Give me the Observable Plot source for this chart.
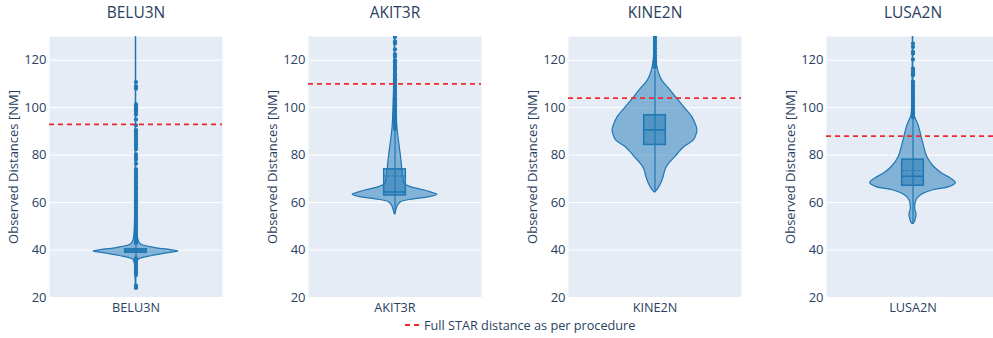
<!DOCTYPE html>
<html>
<head>
<meta charset="utf-8">
<script src="https://cdn.jsdelivr.net/npm/d3@7"></script>
<script src="https://cdn.jsdelivr.net/npm/@observablehq/plot@0.6"></script>
<style>
  body { margin: 0; background: #fff; font-family: "Open Sans", sans-serif; }
  #chart { position: relative; width: 993px; height: 338px; overflow: hidden; }
  .panel { position: absolute; top: 0; }
  #legend { position: absolute; left: 403px; top: 316px; display: flex; align-items: center;
            font: 12.7px "Open Sans", sans-serif; color: #2a3f5f; white-space: nowrap; }
  #legend svg { margin-right: 3px; }
</style>
</head>
<body>
<div id="chart"></div>
<script>
// STAR routes, one panel each
const routes = ["BELU3N", "AKIT3R", "KINE2N", "LUSA2N"];
// Full STAR distance as per procedure [NM]
const starDistance = [93, 110, 104, 88];

// Box statistics per route [NM]
const q1 = [38.9, 63.0, 84.3, 67.1];
const median = [39.6, 64.5, 90.7, 71.1];
const mean = [40.3, 71.2, 90.5, 73.5];
const q3 = [40.3, 74.0, 96.8, 78.1];
const whiskerLow = [37.0, 55.0, 64.5, 51.0];
const whiskerHigh = [42.3, 90.5, 115.5, 95.0];

// Violin outlines: distance levels and relative half-widths of the density
const violinLevels = [
  [23.5, 27, 31, 34, 35.2, 35.9, 36.7, 37.4, 38.1, 38.8, 39.4, 40, 40.5, 41.2, 41.9, 42.8, 44.3, 47, 52, 60, 80, 105, 130],
  [55, 56.7, 58.8, 60.2, 61.2, 62.3, 63.3, 64.2, 65.1, 66.5, 68, 70, 74, 79.2, 86.2, 91.9, 103, 115, 130],
  [64.3, 65.9, 68.3, 70.8, 73.6, 75.7, 79.2, 83.4, 86.2, 88.5, 90.7, 92.6, 96.1, 100.3, 104.5, 108.1, 111.6, 115.8, 120, 125, 130],
  [51, 52, 53.2, 54.3, 55.3, 56.5, 58.1, 60.9, 63, 65.1, 66.5, 68.2, 70.1, 72.2, 75, 79.2, 83.4, 87.6, 91.9, 94.7, 96.8, 105, 115, 130]
];
const violinWidths = [
  [0.006, 0.008, 0.012, 0.025, 0.04, 0.06, 0.17, 0.35, 0.56, 0.8, 0.98, 0.8, 0.56, 0.35, 0.17, 0.09, 0.055, 0.035, 0.022, 0.012, 0.006, 0.004, 0.003],
  [0.006, 0.03, 0.07, 0.14, 0.37, 0.8, 0.98, 0.85, 0.69, 0.37, 0.22, 0.2, 0.17, 0.14, 0.09, 0.055, 0.03, 0.012, 0.004],
  [0.01, 0.08, 0.15, 0.2, 0.24, 0.3, 0.47, 0.68, 0.9, 0.96, 0.98, 0.95, 0.86, 0.67, 0.48, 0.32, 0.16, 0.07, 0.03, 0.012, 0.005],
  [0.015, 0.05, 0.065, 0.08, 0.08, 0.06, 0.05, 0.08, 0.18, 0.45, 0.84, 0.99, 0.88, 0.68, 0.49, 0.33, 0.26, 0.2, 0.14, 0.08, 0.035, 0.015, 0.008, 0.004]
];

// Individual observations outside the whiskers [NM]
const outliers = [
  [24, 24.5, 25, 29.5, 30.5, 31.5, 32.5, 33.5, 34.5, 35.5, 36.5,
   43, 44, 45, 46, 47, 48, 49, 50, 51, 52, 53, 54, 55, 56, 57, 58, 59, 60, 61, 62, 63, 64, 65, 66, 67, 68, 69, 70, 71, 72, 73, 74,
   76.4, 78.1, 79.2, 80.3, 82.5, 83.5, 84.5, 85.5, 86.5, 87.5, 88.5, 89.5, 90.5, 92.6, 95, 97.1, 98.2, 99, 99.7, 100.5, 101.4, 108, 109, 110.8],
  [91, 92, 93, 94, 95, 96, 97, 98, 99, 100, 101, 102, 103, 104, 105, 106, 107, 108, 109, 110, 111, 112, 113, 114, 115, 116, 117, 118, 119,
   120, 121.5, 122.5, 124.6, 127, 128, 129.8],
  [117, 118, 119, 120, 121, 122, 123, 124, 125, 126, 127, 128, 129, 130],
  [96, 97, 98, 99, 100, 101, 102, 103, 104, 105, 106, 107, 108, 109, 110, 111,
   113.7, 114.5, 115.5, 116.5, 120.3, 122.8, 123.5, 125.6, 127]
];

const yTicks = [20, 40, 60, 80, 100, 120];

const blue = "#1f77b4";
const ink = "#2a3f5f";
const panelLeft = [0, 259, 519, 777];

const chart = document.getElementById("chart");

routes.forEach((name, i) => {
  const violin = violinLevels[i].map((v, k) => ({v, w: violinWidths[i][k]}));
  const box = {q1: q1[i], q3: q3[i], median: median[i], mean: mean[i], lo: whiskerLow[i], hi: whiskerHigh[i]};

  const svg = Plot.plot({
    width: 259,
    height: 338,
    marginLeft: 49,
    marginRight: 37,
    marginTop: 36,
    marginBottom: 41,
    style: {fontFamily: "Open Sans, sans-serif", fontSize: "12.7px", color: ink, background: "transparent", overflow: "visible"},
    x: {domain: [-2, 2]},
    y: {domain: [20, 130]},
    marks: [
      Plot.frame({fill: "#E5ECF6", stroke: null}),
      Plot.gridY(yTicks, {stroke: "white", strokeOpacity: 1, strokeWidth: 1}),
      Plot.axisY(yTicks, {tickSize: 0, tickPadding: 3, label: "Observed Distances [NM]", labelArrow: "none",
        labelAnchor: "center", labelOffset: 41, fontSize: 13, fill: ink}),
      Plot.axisX([0], {tickSize: 0, tickPadding: 5, tickFormat: () => name, label: null, fill: ink}),
      Plot.areaX(violin, {y: "v", x1: d => -d.w, x2: d => d.w, curve: "catmull-rom",
        fill: blue, fillOpacity: 0.5, stroke: blue, strokeWidth: 1.2, clip: true}),
      Plot.ruleX([box], {x: () => 0, y1: "lo", y2: "hi", stroke: blue, strokeWidth: 1.2}),
      Plot.rect([box], {x1: () => -0.25, x2: () => 0.25, y1: "q1", y2: "q3",
        fill: blue, fillOpacity: 0.5, stroke: blue, strokeWidth: 1.5}),
      Plot.ruleY([box], {y: "median", x1: () => -0.25, x2: () => 0.25, stroke: blue, strokeWidth: 1.5}),
      Plot.ruleY([box], {y: "mean", x1: () => -0.25, x2: () => 0.25, stroke: blue, strokeWidth: 1, strokeDasharray: "2,2"}),
      Plot.dot(outliers[i], {x: () => 0, y: d => d, r: 2.1, fill: blue, stroke: null, clip: true}),
      Plot.ruleY([starDistance[i]], {stroke: "#ee2b2b", strokeWidth: 1.8, strokeDasharray: "5,4"}),
      Plot.text([name], {frameAnchor: "top", dy: -23.5, lineAnchor: "middle", fontSize: 15.5, fill: ink})
    ]
  });
  svg.classList.add("panel");
  svg.style.left = panelLeft[i] + "px";
  chart.appendChild(svg);
});

// Legend below the panels
const legend = document.createElement("div");
legend.id = "legend";
legend.innerHTML = '<svg width="18" height="10"><line x1="2" x2="16" y1="5" y2="5" stroke="#ee2b2b" stroke-width="1.8" stroke-dasharray="5,4"></line></svg><span>Full STAR distance as per procedure</span>';
chart.appendChild(legend);
</script>
</body>
</html>
